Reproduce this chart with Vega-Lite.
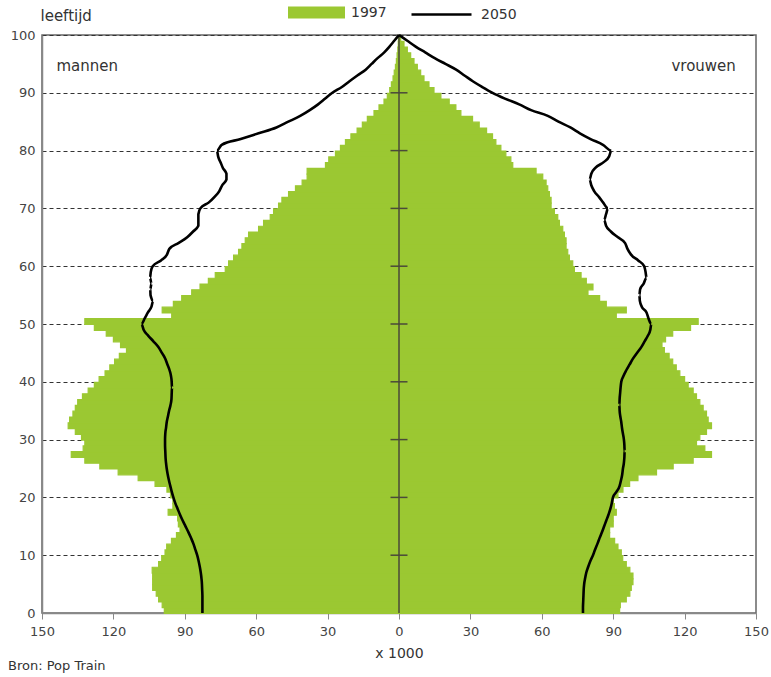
{
  "$schema": "https://vega.github.io/schema/vega-lite/v6.json",
  "width": 714,
  "height": 578,
  "autosize": {"type": "none"},
  "padding": {"left": 42, "top": 35, "right": 15, "bottom": 64},
  "background": "white",
  "config": {
    "font": "DejaVu Sans",
    "view": {"stroke": "#666", "strokeWidth": 1.5},
    "axis": {"labelFont": "DejaVu Sans", "titleFont": "DejaVu Sans"}
  },
  "title": {"text": "Bron: Pop Train", "orient": "bottom", "anchor": "start", "frame": "group", "dx": -34, "offset": 0, "fontSize": 13, "fontWeight": "normal", "color": "#333", "font": "DejaVu Sans"},
  "data": {"values": [
    {"age":0,"m1997":98.6,"v1997":92.7,"m2050":82.6,"v2050":77.3},
    {"age":1,"m1997":99.5,"v1997":93,"m2050":82.6,"v2050":77.3},
    {"age":2,"m1997":101,"v1997":95.5,"m2050":82.6,"v2050":77.4},
    {"age":3,"m1997":102,"v1997":97,"m2050":82.6,"v2050":77.5},
    {"age":4,"m1997":103.5,"v1997":97.6,"m2050":82.7,"v2050":77.6},
    {"age":5,"m1997":103.5,"v1997":98.3,"m2050":82.8,"v2050":77.8},
    {"age":6,"m1997":103.5,"v1997":98.3,"m2050":83,"v2050":78.2},
    {"age":7,"m1997":103.7,"v1997":97,"m2050":83.3,"v2050":78.7},
    {"age":8,"m1997":101,"v1997":95.5,"m2050":83.7,"v2050":79.5},
    {"age":9,"m1997":99.7,"v1997":94,"m2050":84.2,"v2050":80.4},
    {"age":10,"m1997":98.3,"v1997":93.4,"m2050":84.8,"v2050":81.5},
    {"age":11,"m1997":97.6,"v1997":92,"m2050":85.6,"v2050":82.4},
    {"age":12,"m1997":95.6,"v1997":90.6,"m2050":86.4,"v2050":83.4},
    {"age":13,"m1997":93.5,"v1997":88.5,"m2050":87.4,"v2050":84.3},
    {"age":14,"m1997":92,"v1997":88.5,"m2050":88.5,"v2050":85.3},
    {"age":15,"m1997":92.7,"v1997":90,"m2050":89.7,"v2050":86.2},
    {"age":16,"m1997":93,"v1997":90,"m2050":90.9,"v2050":87.1},
    {"age":17,"m1997":97,"v1997":91.3,"m2050":92,"v2050":88},
    {"age":18,"m1997":95,"v1997":90.5,"m2050":93,"v2050":88.8},
    {"age":19,"m1997":95,"v1997":90,"m2050":94,"v2050":89.4},
    {"age":20,"m1997":96,"v1997":92,"m2050":94.8,"v2050":89.9},
    {"age":21,"m1997":97.5,"v1997":94.1,"m2050":95.5,"v2050":91.4},
    {"age":22,"m1997":102.5,"v1997":96.9,"m2050":96.1,"v2050":92.7},
    {"age":23,"m1997":109.6,"v1997":100.4,"m2050":96.7,"v2050":93.3},
    {"age":24,"m1997":118,"v1997":108.2,"m2050":97.2,"v2050":93.8},
    {"age":25,"m1997":125.7,"v1997":115.2,"m2050":97.6,"v2050":94.1},
    {"age":26,"m1997":132,"v1997":123.6,"m2050":97.9,"v2050":94.5},
    {"age":27,"m1997":137.7,"v1997":131.3,"m2050":98.1,"v2050":94.7},
    {"age":28,"m1997":132.7,"v1997":128.5,"m2050":98.2,"v2050":94.8},
    {"age":29,"m1997":132,"v1997":125,"m2050":98.3,"v2050":94.7},
    {"age":30,"m1997":133.4,"v1997":126.4,"m2050":98.3,"v2050":94.5},
    {"age":31,"m1997":136,"v1997":129.2,"m2050":98.2,"v2050":94.1},
    {"age":32,"m1997":139,"v1997":131.3,"m2050":97.9,"v2050":93.7},
    {"age":33,"m1997":138.4,"v1997":129.9,"m2050":97.6,"v2050":93.4},
    {"age":34,"m1997":137,"v1997":129.2,"m2050":97.1,"v2050":93},
    {"age":35,"m1997":136,"v1997":127.8,"m2050":96.6,"v2050":92.7},
    {"age":36,"m1997":135,"v1997":126.4,"m2050":96,"v2050":92.6},
    {"age":37,"m1997":133,"v1997":125,"m2050":95.6,"v2050":92.7},
    {"age":38,"m1997":130.6,"v1997":123.6,"m2050":95.5,"v2050":92.9},
    {"age":39,"m1997":128,"v1997":121.5,"m2050":95.4,"v2050":93.1},
    {"age":40,"m1997":126,"v1997":120,"m2050":95.5,"v2050":93.4},
    {"age":41,"m1997":123.5,"v1997":118,"m2050":95.8,"v2050":94.3},
    {"age":42,"m1997":121.5,"v1997":116.5,"m2050":96.4,"v2050":95.5},
    {"age":43,"m1997":119.5,"v1997":115,"m2050":97.3,"v2050":96.9},
    {"age":44,"m1997":117.5,"v1997":113.5,"m2050":98.2,"v2050":98.3},
    {"age":45,"m1997":114.5,"v1997":111.5,"m2050":99.6,"v2050":100},
    {"age":46,"m1997":117,"v1997":110.5,"m2050":101.1,"v2050":101.8},
    {"age":47,"m1997":120,"v1997":112,"m2050":103.2,"v2050":103.2},
    {"age":48,"m1997":123,"v1997":115,"m2050":105.4,"v2050":104.6},
    {"age":49,"m1997":128,"v1997":122.5,"m2050":107.3,"v2050":105.6},
    {"age":50,"m1997":132,"v1997":125.7,"m2050":108.2,"v2050":106},
    {"age":51,"m1997":95.5,"v1997":91.3,"m2050":106.8,"v2050":104.8},
    {"age":52,"m1997":99.5,"v1997":95.5,"m2050":105.5,"v2050":104},
    {"age":53,"m1997":94.8,"v1997":87.1,"m2050":104,"v2050":102},
    {"age":54,"m1997":91.3,"v1997":84.3,"m2050":103.3,"v2050":101.2},
    {"age":55,"m1997":87.1,"v1997":79.4,"m2050":104.4,"v2050":101},
    {"age":56,"m1997":83.6,"v1997":81.5,"m2050":104.5,"v2050":101.3},
    {"age":57,"m1997":80.1,"v1997":78.7,"m2050":104,"v2050":102.8},
    {"age":58,"m1997":77.2,"v1997":76.5,"m2050":104.6,"v2050":104},
    {"age":59,"m1997":73,"v1997":73.7,"m2050":104.3,"v2050":103.6},
    {"age":60,"m1997":71.6,"v1997":73,"m2050":103.5,"v2050":103},
    {"age":61,"m1997":69.5,"v1997":71.6,"m2050":100,"v2050":100.5},
    {"age":62,"m1997":67.4,"v1997":70.9,"m2050":97.5,"v2050":97.5},
    {"age":63,"m1997":66,"v1997":70.2,"m2050":96.5,"v2050":96},
    {"age":64,"m1997":64.6,"v1997":70.2,"m2050":92.7,"v2050":95},
    {"age":65,"m1997":63.2,"v1997":69.5,"m2050":89,"v2050":92},
    {"age":66,"m1997":59,"v1997":68.8,"m2050":86.5,"v2050":89},
    {"age":67,"m1997":56.9,"v1997":67.4,"m2050":84.3,"v2050":87},
    {"age":68,"m1997":54.1,"v1997":66.7,"m2050":84.3,"v2050":86.2},
    {"age":69,"m1997":52.7,"v1997":65.3,"m2050":84.3,"v2050":87},
    {"age":70,"m1997":50.6,"v1997":63.9,"m2050":83.5,"v2050":87.8},
    {"age":71,"m1997":49.2,"v1997":63.9,"m2050":80,"v2050":85.8},
    {"age":72,"m1997":46.4,"v1997":63.2,"m2050":77.5,"v2050":84},
    {"age":73,"m1997":43.5,"v1997":62.5,"m2050":75.5,"v2050":82},
    {"age":74,"m1997":40.7,"v1997":61.8,"m2050":74.3,"v2050":80.8},
    {"age":75,"m1997":38.6,"v1997":60.4,"m2050":72.5,"v2050":80.1},
    {"age":76,"m1997":38.6,"v1997":57.6,"m2050":72.5,"v2050":80.8},
    {"age":77,"m1997":30.9,"v1997":47.8,"m2050":74,"v2050":82.5},
    {"age":78,"m1997":29.5,"v1997":47,"m2050":75,"v2050":86},
    {"age":79,"m1997":26.7,"v1997":44.9,"m2050":76,"v2050":88.3},
    {"age":80,"m1997":24.6,"v1997":42.8,"m2050":76.5,"v2050":89.2},
    {"age":81,"m1997":22.5,"v1997":40.7,"m2050":74.5,"v2050":85.7},
    {"age":82,"m1997":20.2,"v1997":39.3,"m2050":66.5,"v2050":80.5},
    {"age":83,"m1997":17.6,"v1997":36.8,"m2050":59,"v2050":76},
    {"age":84,"m1997":15.4,"v1997":33.7,"m2050":51.5,"v2050":72},
    {"age":85,"m1997":13.3,"v1997":30.9,"m2050":46.5,"v2050":67},
    {"age":86,"m1997":10.5,"v1997":26,"m2050":41.5,"v2050":62.5},
    {"age":87,"m1997":8.4,"v1997":23.9,"m2050":37.5,"v2050":55.5},
    {"age":88,"m1997":6.3,"v1997":21.1,"m2050":34,"v2050":50.5},
    {"age":89,"m1997":4.9,"v1997":17.6,"m2050":31,"v2050":44.5},
    {"age":90,"m1997":3.9,"v1997":14.7,"m2050":28,"v2050":39.3},
    {"age":91,"m1997":3.2,"v1997":12.6,"m2050":24,"v2050":35},
    {"age":92,"m1997":2.5,"v1997":10.5,"m2050":20.8,"v2050":31},
    {"age":93,"m1997":2,"v1997":9.1,"m2050":17.5,"v2050":27.5},
    {"age":94,"m1997":1.5,"v1997":7.7,"m2050":14,"v2050":24},
    {"age":95,"m1997":1.1,"v1997":6.3,"m2050":11.5,"v2050":19.5},
    {"age":96,"m1997":0.8,"v1997":4.9,"m2050":9,"v2050":15},
    {"age":97,"m1997":0.5,"v1997":3.5,"m2050":6.2,"v2050":11},
    {"age":98,"m1997":0.3,"v1997":2.1,"m2050":4,"v2050":7},
    {"age":99,"m1997":0.2,"v1997":0.7,"m2050":2,"v2050":3.5},
    {"age":100,"m1997":null,"v1997":null,"m2050":0,"v2050":0}
  ]},
  "layer": [
    {
      "transform": [{"filter": "isValid(datum.m1997)"}, {"calculate": "-datum.m1997", "as": "xm"}],
      "mark": {"type": "bar", "binSpacing": 0, "stroke": "#9BC832", "strokeWidth": 1.2},
      "encoding": {
        "y": {"field": "age", "type": "quantitative", "bin": {"binned": true, "step": 1}, "title": "leeftijd",
          "scale": {"domain": [0, 100], "nice": false, "zero": false},
          "axis": {"values": [0,10,20,30,40,50,60,70,80,90,100], "format": "d", "grid": true, "gridDash": [4,3], "gridColor": "#333", "gridWidth": 1, "ticks": false, "labelPadding": 7, "labelFontSize": 13, "labelColor": "#444", "domainColor": "#888", "domainWidth": 1.5,
            "titleAngle": 0, "titleAlign": "left", "titleBaseline": "middle", "titleX": -2, "titleY": -20, "titleFontSize": 15, "titleFontWeight": "normal", "titleColor": "#333"}},
        "x": {"field": "xm", "type": "quantitative", "title": "x 1000",
          "scale": {"domain": [-150, 150], "nice": false},
          "axis": {"values": [-150,-120,-90,-60,-30,0,30,60,90,120,150], "labelExpr": "abs(datum.value)", "labelFlush": false, "grid": false, "tickSize": 6, "tickColor": "#888", "domainColor": "#888", "domainWidth": 1.5, "labelFontSize": 13, "labelColor": "#444", "labelPadding": 6, "titleFontSize": 14, "titleFontWeight": "normal", "titleColor": "#333", "titlePadding": 8}},
        "x2": {"datum": 0},
        "fill": {"datum": "1997", "scale": {"range": ["#9BC832"]},
          "legend": {"orient": "none", "legendX": 246, "legendY": -51, "direction": "horizontal", "title": null, "symbolType": "M-1,-0.21L1,-0.21L1,0.21L-1,0.21Z", "symbolSize": 3249, "symbolStrokeWidth": 0, "labelFontSize": 14, "labelColor": "#333", "labelOffset": 6}}
      }
    },
    {
      "transform": [{"filter": "isValid(datum.v1997)"}],
      "mark": {"type": "bar", "binSpacing": 0, "stroke": "#9BC832", "strokeWidth": 1.2},
      "encoding": {
        "y": {"field": "age", "type": "quantitative", "bin": {"binned": true, "step": 1}, "title": "leeftijd"},
        "x": {"field": "v1997", "type": "quantitative", "title": "x 1000"},
        "x2": {"datum": 0},
        "fill": {"datum": "1997"}
      }
    },
    {
      "data": {"values": [{}]},
      "mark": {"type": "rule", "color": "#4a4a3a", "strokeWidth": 1.5},
      "encoding": {"x": {"datum": 0}, "y": {"datum": 0}, "y2": {"datum": 100}}
    },
    {
      "transform": [{"filter": "datum.age % 10 == 0 && datum.age > 0 && datum.age < 100"}],
      "mark": {"type": "tick", "orient": "horizontal", "size": 17, "thickness": 1.5, "color": "#4a4a3a", "opacity": 1},
      "encoding": {"x": {"datum": 0}, "y": {"field": "age", "type": "quantitative", "title": "leeftijd"}}
    },
    {
      "transform": [{"calculate": "-datum.m2050", "as": "xm50"}],
      "mark": {"type": "line", "strokeWidth": 2.6, "interpolate": "monotone"},
      "encoding": {
        "y": {"field": "age", "type": "quantitative", "title": "leeftijd"},
        "x": {"field": "xm50", "type": "quantitative", "title": "x 1000"},
        "order": {"field": "age"},
        "stroke": {"datum": "2050", "scale": {"range": ["#000000"]},
          "legend": {"orient": "none", "legendX": 368, "legendY": -52, "direction": "horizontal", "title": null, "symbolType": "stroke", "symbolSize": 3600, "symbolStrokeWidth": 2.5, "labelFontSize": 14, "labelColor": "#333", "labelOffset": 8}}
      }
    },
    {
      "mark": {"type": "line", "strokeWidth": 2.6, "interpolate": "monotone"},
      "encoding": {
        "y": {"field": "age", "type": "quantitative", "title": "leeftijd"},
        "x": {"field": "v2050", "type": "quantitative", "title": "x 1000"},
        "order": {"field": "age"},
        "stroke": {"datum": "2050"}
      }
    },
    {
      "data": {"values": [{}]},
      "mark": {"type": "text", "text": "mannen", "fontSize": 15, "color": "#333", "align": "center", "baseline": "middle"},
      "encoding": {"x": {"datum": -131}, "y": {"datum": 94.6}}
    },
    {
      "data": {"values": [{}]},
      "mark": {"type": "text", "text": "vrouwen", "fontSize": 15, "color": "#333", "align": "center", "baseline": "middle"},
      "encoding": {"x": {"datum": 128}, "y": {"datum": 94.6}}
    }
  ]
}
